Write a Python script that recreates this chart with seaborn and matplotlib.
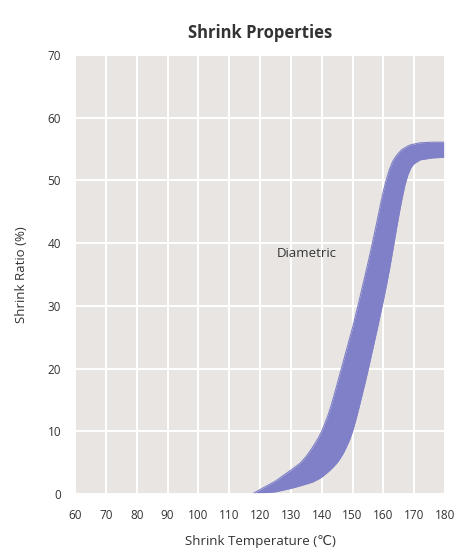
import numpy as np
import pandas as pd
import seaborn as sns
import matplotlib.pyplot as plt

# 読み取った値 (温度 ℃, 収縮率 %)
temps = [117.5, 120, 125, 130, 133, 135, 137, 139, 140, 141, 142, 143, 144, 145, 146, 147, 148, 149, 150,
         151, 152, 153, 154, 155, 156, 157, 158, 159, 160, 161, 162, 163, 164, 165, 166, 167, 168, 169, 170,
         172, 176, 180]
upper = [0, 0.7, 2.05, 3.8, 4.9, 6.0, 7.4, 9.0, 10.0, 11.2, 12.5, 14.0, 15.7, 17.5, 19.3, 21.1, 22.9, 24.7, 26.5,
         28.5, 30.5, 32.6, 34.7, 36.8, 39.0, 41.3, 43.6, 46.0, 48.3, 50.2, 51.8, 53.0, 53.8, 54.4, 54.9, 55.2, 55.5, 55.7, 55.8,
         56.0, 56.1, 56.1]
lower = [0, 0.1, 0.35, 0.9, 1.3, 1.6, 1.9, 2.4, 2.7, 3.1, 3.5, 3.95, 4.45, 5.0, 5.7, 6.5, 7.5, 8.6, 10.0,
         11.7, 13.6, 15.6, 17.6, 19.7, 21.9, 24.1, 26.3, 28.6, 30.9, 33.3, 35.9, 38.7, 41.6, 44.4, 47.0, 49.3, 51.0, 52.1, 52.7,
         53.3, 53.6, 53.7]
x_ticks = [60, 70, 80, 90, 100, 110, 120, 130, 140, 150, 160, 170, 180]
y_ticks = [0, 10, 20, 30, 40, 50, 60, 70]

df = pd.DataFrame({'temp': temps, 'upper': upper, 'lower': lower})

sns.set_theme(style='darkgrid', rc={
    'axes.facecolor': '#e8e5e2',
    'grid.color': 'white',
    'grid.linewidth': 1.4,
})
plt.rcParams['font.family'] = ['Open Sans', 'DejaVu Sans']

fig = plt.figure(figsize=(4.61, 5.54), dpi=100)
ax = fig.add_axes([0.1627, 0.1083, 0.8026, 0.7924])

band = '#8080c8'
ax.fill_between(df['temp'], df['lower'], df['upper'], color=band, linewidth=0)
sns.lineplot(data=df, x='temp', y='upper', ax=ax, color=band, linewidth=0.8)
sns.lineplot(data=df, x='temp', y='lower', ax=ax, color=band, linewidth=0.8)

ax.set_xlim(60, 180)
ax.set_ylim(0, 70)
ax.set_xticks(x_ticks)
ax.set_yticks(y_ticks)
ax.tick_params(length=0, labelsize=8.5, labelcolor='#333333')
ax.tick_params(axis='x', pad=11)
ax.tick_params(axis='y', pad=10)

ax.text(135, 38.4, 'Diametric', ha='center', va='center', fontsize=9.5, color='#333333')

ax.set_title('Shrink Properties', fontsize=12, fontweight='bold', color='#333333', pad=12)
ax.set_xlabel('Shrink Temperature (℃)', fontsize=9.5, color='#333333', labelpad=9)
ax.set_ylabel('Shrink Ratio (%)', fontsize=9.5, color='#333333', labelpad=14)

plt.savefig('out.png', dpi=100)
